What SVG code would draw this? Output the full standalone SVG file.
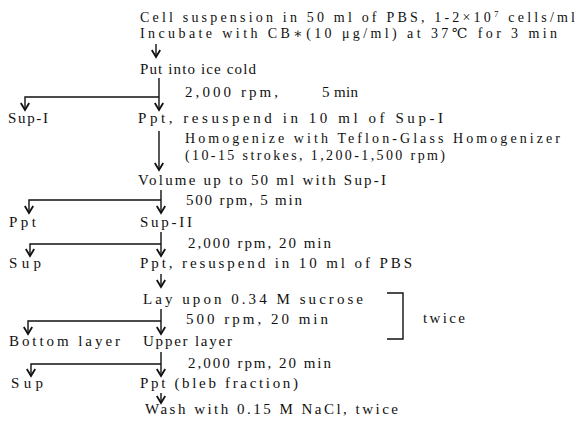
<svg xmlns="http://www.w3.org/2000/svg" width="581" height="425" viewBox="0 0 581 425">
<style>
text{font-family:"Liberation Serif","DejaVu Serif",serif;font-size:15px;fill:#111;}
text.t{font-size:14px;}
.c{stroke:#111;stroke-width:1.4;fill:none;}
</style>
<defs>
<marker id="ah" markerUnits="userSpaceOnUse" markerWidth="12" markerHeight="12" viewBox="-9 -6 11 12" refX="0" refY="0" orient="auto">
<path d="M-7,-4.2 L0,0 L-7,4.2" fill="none" stroke="#111" stroke-width="1.8"/>
</marker>
</defs>
<rect width="581" height="425" fill="#fff"/>
<g id="n-start">
<text class="t" x="140" y="22" textLength="435" lengthAdjust="spacing">Cell suspension in 50 ml of PBS, 1-2×10<tspan baseline-shift="super" font-size="9">7</tspan> cells/ml</text>
<text class="t" x="140" y="38" textLength="417" lengthAdjust="spacing">Incubate with CB∗(10 μg/ml) at 37℃ for 3 min</text>
</g>
<g id="n-ice"><text x="140" y="74" textLength="116" lengthAdjust="spacing">Put into ice cold</text></g>
<g id="l-spin1"><text x="185" y="97" textLength="93" lengthAdjust="spacing">2,000 rpm,</text><text x="322" y="97" textLength="36" lengthAdjust="spacing">5 min</text></g>
<g id="n-supI"><text x="8" y="123" textLength="40" lengthAdjust="spacing">Sup-I</text></g>
<g id="n-ppt1"><text x="138" y="123" textLength="305" lengthAdjust="spacing">Ppt, resuspend in 10 ml of Sup-I</text></g>
<g id="l-homog">
<text class="t" x="185" y="143" textLength="375" lengthAdjust="spacing">Homogenize with Teflon-Glass Homogenizer</text>
<text class="t" x="185" y="160" textLength="260" lengthAdjust="spacing">(10-15 strokes, 1,200-1,500 rpm)</text>
</g>
<g id="n-volume"><text x="138" y="185" textLength="248" lengthAdjust="spacing">Volume up to 50 ml with Sup-I</text></g>
<g id="l-spin2"><text x="186" y="205" textLength="116" lengthAdjust="spacing">500 rpm, 5 min</text></g>
<g id="n-ppt2"><text x="9" y="227" textLength="27" lengthAdjust="spacing">Ppt</text></g>
<g id="n-supII"><text x="140" y="227" textLength="52" lengthAdjust="spacing">Sup-II</text></g>
<g id="l-spin3"><text x="188" y="248" textLength="143" lengthAdjust="spacing">2,000 rpm, 20 min</text></g>
<g id="n-sup3"><text x="9" y="268" textLength="32" lengthAdjust="spacing">Sup</text></g>
<g id="n-ppt3"><text x="140" y="268" textLength="272" lengthAdjust="spacing">Ppt, resuspend in 10 ml of PBS</text></g>
<g id="n-lay"><text x="143" y="304" textLength="220" lengthAdjust="spacing">Lay upon 0.34 M sucrose</text></g>
<g id="l-spin4"><text x="186" y="324" textLength="142" lengthAdjust="spacing">500 rpm, 20 min</text></g>
<g id="n-twice">
<path class="c" d="M387,293 H403 V339 H387"/>
<text x="423" y="323" textLength="42" lengthAdjust="spacing">twice</text>
</g>
<g id="n-bottom"><text x="9" y="346" textLength="111" lengthAdjust="spacing">Bottom layer</text></g>
<g id="n-upper"><text x="143" y="346" textLength="89" lengthAdjust="spacing">Upper layer</text></g>
<g id="l-spin5"><text x="188" y="368" textLength="143" lengthAdjust="spacing">2,000 rpm, 20 min</text></g>
<g id="n-sup5"><text x="11" y="388" textLength="32" lengthAdjust="spacing">Sup</text></g>
<g id="n-bleb"><text x="140" y="388" textLength="158" lengthAdjust="spacing">Ppt (bleb fraction)</text></g>
<g id="n-wash"><text x="145" y="414" textLength="253" lengthAdjust="spacing">Wash with 0.15 M NaCl, twice</text></g>
<g id="connectors">
<line class="c" x1="156" y1="44" x2="156" y2="57" marker-end="url(#ah)"/>
<path class="c" d="M159,78 V110" marker-end="url(#ah)"/>
<path class="c" d="M159,97 H25 V110" marker-end="url(#ah)"/>
<line class="c" x1="159" y1="131" x2="159" y2="170" marker-end="url(#ah)"/>
<path class="c" d="M161,190 V213" marker-end="url(#ah)"/>
<path class="c" d="M161,200 H29 V213" marker-end="url(#ah)"/>
<path class="c" d="M161,232 V256" marker-end="url(#ah)"/>
<path class="c" d="M161,244 H30 V256" marker-end="url(#ah)"/>
<line class="c" x1="161" y1="274" x2="161" y2="287" marker-end="url(#ah)"/>
<path class="c" d="M161,309 V334" marker-end="url(#ah)"/>
<path class="c" d="M161,321 H28 V334" marker-end="url(#ah)"/>
<path class="c" d="M161,352 V376" marker-end="url(#ah)"/>
<path class="c" d="M161,364 H31 V376" marker-end="url(#ah)"/>
<line class="c" x1="161" y1="393" x2="161" y2="403" marker-end="url(#ah)"/>
</g>
</svg>
